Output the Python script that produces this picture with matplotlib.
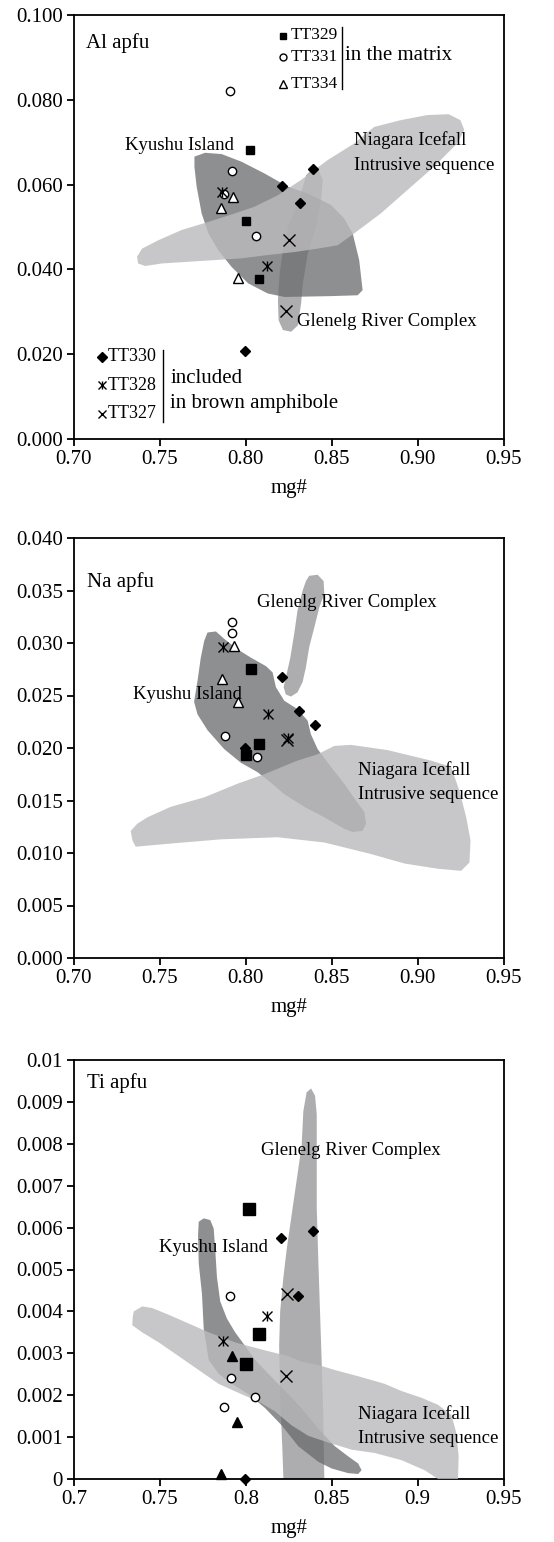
import matplotlib
matplotlib.use("Agg")
import matplotlib.pyplot as plt
from matplotlib.patches import Polygon
from matplotlib.ticker import FuncFormatter

plt.rcParams['font.family'] = ['Liberation Serif', 'DejaVu Serif']

# ---------------- shared ----------------
mg_ticks = [0.70, 0.75, 0.80, 0.85, 0.90, 0.95]

# ---------------- panel 1 : Al apfu ----------------
al_ticks = [0.000, 0.020, 0.040, 0.060, 0.080, 0.100]
al_tt329 = [(0.8023, 0.0681), (0.8004, 0.0514), (0.8077, 0.0378)]
al_tt331 = [(0.7910, 0.0821), (0.7917, 0.0633), (0.7875, 0.0577), (0.8058, 0.0479)]
al_tt334 = [(0.7927, 0.0571), (0.7853, 0.0545), (0.7952, 0.0379)]
al_tt330 = [(0.8210, 0.0596), (0.8394, 0.0637), (0.8313, 0.0557), (0.7996, 0.0208)]
al_tt328 = [(0.7863, 0.0583), (0.8125, 0.0408)]
al_tt327 = [(0.8249, 0.0469), (0.8236, 0.0301)]

al_kyushu = [(0.7701, 0.0666), (0.7763, 0.0675), (0.7859, 0.0672), (0.7975, 0.0654),
             (0.8110, 0.0626), (0.8245, 0.0595), (0.8361, 0.0579), (0.8496, 0.0552),
             (0.8573, 0.0520), (0.8622, 0.0485), (0.8660, 0.0422), (0.8680, 0.0351),
             (0.8651, 0.0339), (0.8496, 0.0337), (0.8226, 0.0335), (0.8129, 0.0343),
             (0.8014, 0.0367), (0.7917, 0.0406), (0.7840, 0.0445), (0.7782, 0.0485),
             (0.7743, 0.0532), (0.7714, 0.0595), (0.7701, 0.0642)]
al_niagara = [(0.7367, 0.0430), (0.7396, 0.0449), (0.7492, 0.0469), (0.7627, 0.0493),
              (0.7782, 0.0512), (0.7936, 0.0532), (0.8052, 0.0548), (0.8187, 0.0575),
              (0.8322, 0.0611), (0.8477, 0.0658), (0.8631, 0.0697), (0.8747, 0.0736),
              (0.8902, 0.0752), (0.9056, 0.0764), (0.9181, 0.0766), (0.9249, 0.0752),
              (0.9272, 0.0729), (0.9230, 0.0697), (0.9095, 0.0642), (0.8940, 0.0587),
              (0.8786, 0.0532), (0.8631, 0.0485), (0.8535, 0.0457), (0.8419, 0.0449),
              (0.8284, 0.0441), (0.8129, 0.0434), (0.7975, 0.0426), (0.7820, 0.0422),
              (0.7666, 0.0418), (0.7512, 0.0414), (0.7415, 0.0408), (0.7373, 0.0414)]
al_glenelg = [(0.8380, 0.0634), (0.8429, 0.0630), (0.8448, 0.0611), (0.8438, 0.0563),
              (0.8409, 0.0500), (0.8361, 0.0438), (0.8332, 0.0367), (0.8322, 0.0320),
              (0.8303, 0.0268), (0.8264, 0.0253), (0.8216, 0.0257), (0.8191, 0.0280),
              (0.8187, 0.0327), (0.8197, 0.0390), (0.8216, 0.0445), (0.8245, 0.0500),
              (0.8303, 0.0556), (0.8332, 0.0595), (0.8351, 0.0622)]

# ---------------- panel 2 : Na apfu ----------------
na_ticks = [0.000, 0.005, 0.010, 0.015, 0.020, 0.025, 0.030, 0.035, 0.040]
na_tt329 = [(0.8030, 0.0275), (0.8078, 0.0204), (0.8004, 0.0193)]
na_tt331 = [(0.7917, 0.0320), (0.7921, 0.0310), (0.7880, 0.0211), (0.8063, 0.0191)]
na_tt334 = [(0.7929, 0.0297), (0.7859, 0.0266), (0.7956, 0.0244)]
na_tt330 = [(0.8210, 0.0268), (0.8309, 0.0235), (0.8400, 0.0222), (0.7996, 0.0200)]
na_tt328 = [(0.7870, 0.0296), (0.8127, 0.0232), (0.8245, 0.0210)]
na_tt327 = [(0.8239, 0.0208)]

na_kyushu = [(0.7777, 0.0310), (0.7826, 0.0311), (0.7874, 0.0304), (0.7952, 0.0294),
             (0.8030, 0.0286), (0.8117, 0.0278), (0.8156, 0.0272), (0.8175, 0.0258),
             (0.8224, 0.0245), (0.8301, 0.0237), (0.8360, 0.0226), (0.8379, 0.0213),
             (0.8418, 0.0199), (0.8496, 0.0182), (0.8573, 0.0166), (0.8641, 0.0150),
             (0.8690, 0.0139), (0.8700, 0.0128), (0.8680, 0.0121), (0.8622, 0.0120),
             (0.8573, 0.0123), (0.8457, 0.0134), (0.8340, 0.0144), (0.8224, 0.0156),
             (0.8146, 0.0167), (0.8068, 0.0177), (0.7971, 0.0186), (0.7874, 0.0199),
             (0.7777, 0.0217), (0.7719, 0.0232), (0.7699, 0.0244), (0.7719, 0.0264),
             (0.7738, 0.0286), (0.7758, 0.0302)]
na_niagara = [(0.7330, 0.0121), (0.7340, 0.0112), (0.7359, 0.0106), (0.7563, 0.0109),
              (0.7855, 0.0113), (0.8185, 0.0115), (0.8457, 0.0110), (0.8729, 0.0099),
              (0.8923, 0.0090), (0.9117, 0.0085), (0.9253, 0.0083), (0.9302, 0.0091),
              (0.9308, 0.0112), (0.9283, 0.0134), (0.9244, 0.0159), (0.9195, 0.0182),
              (0.9078, 0.0188), (0.8826, 0.0198), (0.8612, 0.0203), (0.8515, 0.0202),
              (0.8418, 0.0194), (0.8301, 0.0188), (0.8107, 0.0175), (0.7952, 0.0166),
              (0.7758, 0.0153), (0.7563, 0.0144), (0.7427, 0.0134), (0.7369, 0.0128)]
na_glenelg = [(0.8369, 0.0364), (0.8418, 0.0365), (0.8453, 0.0359), (0.8457, 0.0347),
              (0.8428, 0.0334), (0.8399, 0.0315), (0.8369, 0.0296), (0.8350, 0.0277),
              (0.8331, 0.0263), (0.8301, 0.0253), (0.8263, 0.0249), (0.8233, 0.0251),
              (0.8220, 0.0258), (0.8233, 0.0267), (0.8259, 0.0286), (0.8282, 0.0309),
              (0.8301, 0.0331), (0.8331, 0.0350), (0.8350, 0.0359)]

# ---------------- panel 3 : Ti apfu ----------------
ti_ticks = [0.000, 0.001, 0.002, 0.003, 0.004, 0.005, 0.006, 0.007, 0.008, 0.009, 0.010]
ti_tt329 = [(0.8018, 0.00644), (0.8074, 0.00345), (0.8000, 0.00274)]
ti_tt331 = [(0.7906, 0.00437), (0.7913, 0.00241), (0.7875, 0.00173), (0.8055, 0.00195)]
ti_tt334 = [(0.7919, 0.00294), (0.7948, 0.00136), (0.7853, 0.00012)]
ti_tt330 = [(0.8204, 0.00575), (0.8393, 0.00593), (0.8304, 0.00436), (0.7993, 0.00000)]
ti_tt328 = [(0.7865, 0.00330), (0.8122, 0.00389)]
ti_tt327 = [(0.8238, 0.00441), (0.8233, 0.00247)]

ti_kyushu = [(0.7726, 0.00614), (0.7755, 0.00622), (0.7793, 0.00618), (0.7813, 0.00598),
             (0.7822, 0.00548), (0.7832, 0.00482), (0.7851, 0.00424), (0.7890, 0.00383),
             (0.7938, 0.00350), (0.7997, 0.00317), (0.8055, 0.00284), (0.8132, 0.00251),
             (0.8229, 0.00210), (0.8325, 0.00169), (0.8422, 0.00120), (0.8519, 0.00078),
             (0.8596, 0.00054), (0.8654, 0.00037), (0.8674, 0.00021), (0.8654, 0.00012),
             (0.8596, 0.00014), (0.8500, 0.00025), (0.8422, 0.00041), (0.8306, 0.00078),
             (0.8209, 0.00128), (0.8113, 0.00169), (0.8016, 0.00202), (0.7919, 0.00227),
             (0.7842, 0.00251), (0.7784, 0.00284), (0.7755, 0.00359), (0.7745, 0.00441),
             (0.7726, 0.00515), (0.7722, 0.00581)]
ti_glenelg = [(0.8354, 0.00923), (0.8380, 0.00932), (0.8403, 0.00915), (0.8413, 0.00870),
              (0.8413, 0.00771), (0.8413, 0.00647), (0.8422, 0.00523), (0.8432, 0.00400),
              (0.8442, 0.00276), (0.8451, 0.00153), (0.8457, 0.0), (0.8219, 0.0),
              (0.8213, 0.00070), (0.8200, 0.00194), (0.8194, 0.00317), (0.8200, 0.00400),
              (0.8219, 0.00482), (0.8238, 0.00548), (0.8267, 0.00631), (0.8296, 0.00713),
              (0.8325, 0.00796), (0.8335, 0.00878)]
ti_niagara = [(0.7348, 0.00400), (0.7397, 0.00412), (0.7455, 0.00408), (0.7551, 0.00392),
              (0.7668, 0.00371), (0.7784, 0.00350), (0.7938, 0.00326), (0.8093, 0.00309),
              (0.8248, 0.00293), (0.8325, 0.00280), (0.8422, 0.00272), (0.8519, 0.00260),
              (0.8674, 0.00243), (0.8809, 0.00227), (0.8906, 0.00210), (0.9022, 0.00194),
              (0.9119, 0.00177), (0.9196, 0.00153), (0.9225, 0.00111), (0.9239, 0.00054),
              (0.9235, 0.0), (0.9119, 0.0), (0.9041, 0.00021), (0.8906, 0.00045),
              (0.8751, 0.00062), (0.8616, 0.00070), (0.8480, 0.00087), (0.8364, 0.00103),
              (0.8267, 0.00128), (0.8171, 0.00161), (0.8074, 0.00185), (0.7977, 0.00202),
              (0.7842, 0.00227), (0.7726, 0.00260), (0.7610, 0.00293), (0.7493, 0.00326),
              (0.7397, 0.00350), (0.7339, 0.00367), (0.7342, 0.00387)]


KYU_C = '#8e8f91'
GLE_C = '#6a6b6d'
NIA_C = '#bbbbbd'


def xy(pts):
    return [p[0] for p in pts], [p[1] for p in pts]


def star(ax, pts, ms, mew=1.0):
    xs, ys = xy(pts)
    ax.plot(xs, ys, 'x', color='k', ms=ms, mew=mew, zorder=6, clip_on=False)
    ax.plot(xs, ys, '|', color='k', ms=ms * 1.05, mew=mew, zorder=6, clip_on=False)


def draw_regions(ax, kyu, gle, nia):
    ax.add_patch(Polygon(kyu, closed=True, fc=KYU_C, ec='none', zorder=1))
    ax.add_patch(Polygon(gle, closed=True, fc=GLE_C, ec='none', alpha=0.55, zorder=2))
    ax.add_patch(Polygon(nia, closed=True, fc=NIA_C, ec='none', alpha=0.81, zorder=3))


def style_axes(ax, yticks, ylim):
    ax.set_xlim(0.70, 0.95)
    ax.set_ylim(*ylim)
    ax.set_xticks(mg_ticks)
    ax.set_yticks(yticks)
    for s in ax.spines.values():
        s.set_linewidth(1.3)
    ax.tick_params(direction='out', length=5, width=1.3, labelsize=15,
                   top=False, right=False, pad=3)
    ax.set_xlabel('mg#', fontsize=15, labelpad=7)


def plot_points(ax, sq, ci, tr, di, st, cr, big=1.0, tri_fill='white'):
    x, y = xy(sq)
    ax.plot(x, y, 's', color='k', ms=6 * big, zorder=6, clip_on=False)
    x, y = xy(ci)
    ax.plot(x, y, 'o', mfc='white', mec='k', mew=1.0, ms=6, zorder=6, clip_on=False)
    x, y = xy(tr)
    ax.plot(x, y, '^', mfc=tri_fill, mec='k', mew=1.0, ms=7, zorder=6, clip_on=False)
    x, y = xy(di)
    ax.plot(x, y, 'D', color='k', ms=5.5, zorder=6, clip_on=False)
    star(ax, st, 7.5)
    x, y = xy(cr)
    ax.plot(x, y, 'x', color='k', ms=8, mew=1.0, zorder=6, clip_on=False)


fig = plt.figure(figsize=(5.54, 15.42), dpi=100)
W, H = 554.0, 1542.0
left, right = 74 / W, 503.5 / W


def add_axes(top_px, bot_px):
    return fig.add_axes([left, 1 - bot_px / H, right - left, (bot_px - top_px) / H])


# ---------- panel 1 ----------
ax1 = add_axes(15, 439)
draw_regions(ax1, al_kyushu, al_glenelg, al_niagara)
plot_points(ax1, al_tt329, al_tt331, al_tt334, al_tt330, al_tt328, al_tt327)
style_axes(ax1, al_ticks, (0, 0.1))
ax1.xaxis.set_major_formatter(FuncFormatter(lambda v, p: '%.2f' % v))
ax1.yaxis.set_major_formatter(FuncFormatter(lambda v, p: '%.3f' % v))
ax1.text(0.7068, 0.0935, 'Al apfu', fontsize=15, va='center', zorder=7)
ax1.text(0.7299, 0.0693, 'Kyushu Island', fontsize=13.5, va='center', zorder=7)
ax1.text(0.8631, 0.0705, 'Niagara Icefall', fontsize=13.5, va='center', zorder=7)
ax1.text(0.8631, 0.0646, 'Intrusive sequence', fontsize=13.5, va='center', zorder=7)
ax1.text(0.8299, 0.0276, 'Glenelg River Complex', fontsize=13.5, va='center', zorder=7)

# legend: in the matrix
t = ax1.transAxes
ax1.plot([0.486], [0.950], 's', color='k', ms=5, transform=t, zorder=7)
ax1.plot([0.486], [0.900], 'o', mfc='white', mec='k', mew=1.0, ms=5, transform=t, zorder=7)
ax1.plot([0.486], [0.838], '^', mfc='white', mec='k', mew=1.0, ms=6, transform=t, zorder=7)
for yy, lab in [(0.952, 'TT329'), (0.900, 'TT331'), (0.838, 'TT334')]:
    ax1.text(0.505, yy, lab, fontsize=12.5, va='center', transform=t, zorder=7)
ax1.plot([0.623, 0.623], [0.971, 0.825], color='k', lw=1.0, transform=t, zorder=7)
ax1.text(0.630, 0.904, 'in the matrix', fontsize=15, va='center', transform=t, zorder=7)

# legend: included in brown amphibole
ax1.plot([0.066], [0.194], 'D', color='k', ms=5, transform=t, zorder=7)
ax1.plot([0.066], [0.127], 'x', color='k', ms=6, mew=1.0, transform=t, zorder=7)
ax1.plot([0.066], [0.127], '|', color='k', ms=6, mew=1.0, transform=t, zorder=7)
ax1.plot([0.066], [0.060], 'x', color='k', ms=6, mew=1.0, transform=t, zorder=7)
for yy, lab in [(0.194, 'TT330'), (0.127, 'TT328'), (0.060, 'TT327')]:
    ax1.text(0.078, yy, lab, fontsize=13, va='center', transform=t, zorder=7)
ax1.plot([0.207, 0.207], [0.209, 0.040], color='k', lw=1.0, transform=t, zorder=7)
ax1.text(0.224, 0.142, 'included', fontsize=15, va='center', transform=t, zorder=7)
ax1.text(0.224, 0.083, 'in brown amphibole', fontsize=15, va='center', transform=t, zorder=7)

# ---------- panel 2 ----------
ax2 = add_axes(538, 958)
draw_regions(ax2, na_kyushu, na_glenelg, na_niagara)
plot_points(ax2, na_tt329, na_tt331, na_tt334, na_tt330, na_tt328, na_tt327, big=1.15)
style_axes(ax2, na_ticks, (0, 0.04))
ax2.xaxis.set_major_formatter(FuncFormatter(lambda v, p: '%.2f' % v))
ax2.yaxis.set_major_formatter(FuncFormatter(lambda v, p: '%.3f' % v))
ax2.text(0.7074, 0.0358, 'Na apfu', fontsize=15, va='center', zorder=7)
ax2.text(0.8065, 0.0339, 'Glenelg River Complex', fontsize=13.5, va='center', zorder=7)
ax2.text(0.7344, 0.0251, 'Kyushu Island', fontsize=13.5, va='center', zorder=7)
ax2.text(0.8655, 0.0179, 'Niagara Icefall', fontsize=13.5, va='center', zorder=7)
ax2.text(0.8655, 0.0156, 'Intrusive sequence', fontsize=13.5, va='center', zorder=7)

# ---------- panel 3 ----------
ax3 = add_axes(1060, 1479)
draw_regions(ax3, ti_kyushu, ti_glenelg, ti_niagara)
plot_points(ax3, ti_tt329, ti_tt331, ti_tt334, ti_tt330, ti_tt328, ti_tt327,
            big=1.35, tri_fill='k')
style_axes(ax3, ti_ticks, (0, 0.01))
ax3.xaxis.set_major_formatter(FuncFormatter(lambda v, p: '%g' % round(v, 4)))
ax3.yaxis.set_major_formatter(FuncFormatter(lambda v, p: '%g' % round(v, 5)))
ax3.text(0.7077, 0.00946, 'Ti apfu', fontsize=15, va='center', zorder=7)
ax3.text(0.8087, 0.00785, 'Glenelg River Complex', fontsize=13.5, va='center', zorder=7)
ax3.text(0.7493, 0.00552, 'Kyushu Island', fontsize=13.5, va='center', zorder=7)
ax3.text(0.8654, 0.00155, 'Niagara Icefall', fontsize=13.5, va='center', zorder=7)
ax3.text(0.8654, 0.00096, 'Intrusive sequence', fontsize=13.5, va='center', zorder=7)

fig.savefig('out.png', dpi=100)
